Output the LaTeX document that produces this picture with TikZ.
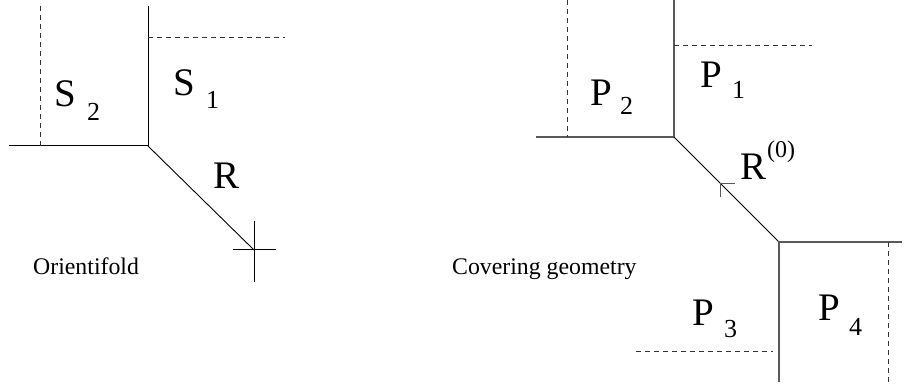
\documentclass[tikz,border=0pt]{standalone}
\usepackage{fontspec}
\setmainfont{Liberation Serif}
\begin{document}
\begin{tikzpicture}[x=1pt,y=-1pt,
  solidline/.style={line width=1pt,black},
  graysolid/.style={line width=1.1pt,black!65},
  diag/.style={line width=0.9pt,black},
  dashline/.style={line width=0.9pt,black!80,dash pattern=on 5pt off 4pt},
  big/.style={inner sep=0pt,anchor=base west,font=\fontsize{39}{39}\selectfont},
  sub/.style={inner sep=0pt,anchor=base west,font=\fontsize{26}{26}\selectfont},
  captext/.style={inner sep=0pt,anchor=base west,font=\fontsize{23.8}{23.8}\selectfont}]
\useasboundingbox (0,0) rectangle (910,387);
% ---------- left: orientifold ----------
\coordinate (LT) at (148,6);
\coordinate (LC) at (148,146);
\coordinate (LW) at (9,146);
\coordinate (LDT) at (40,6);
\coordinate (LDB) at (40,146);
\coordinate (LHE) at (285,37);
\coordinate (LH0) at (148,37);
\coordinate (LE) at (254,250);
\coordinate (XL) at (233,250);
\coordinate (XR) at (276,250);
\coordinate (XT) at (254,221);
\coordinate (XB) at (254,282);
\draw[solidline] (LT) -- (LC) -- (LW);
\draw[dashline] (LDT) -- (LDB);
\draw[dashline] (LH0) -- (LHE);
\draw[diag] (LC) -- (LE);
\draw[solidline] (XL) -- (XR);
\draw[solidline] (XT) -- (XB);
\node[big] (s2) at (54,107) {S};
\node[sub] (s2i) at (87,121) {2};
\node[big] (s1) at (173,96) {S};
\node[sub] (s1i) at (206,109) {1};
\node[big] (r) at (213,189) {R};
\node[captext] (ori) at (33,275) {Orientifold};
% ---------- right: covering geometry ----------
\coordinate (RT) at (674,0);
\coordinate (RC) at (674,137);
\coordinate (RW) at (536,137);
\coordinate (RDT) at (567,0);
\coordinate (RDB) at (567,137);
\coordinate (RH0) at (674,45);
\coordinate (RHE) at (812,45);
\coordinate (RC2) at (779,242);
\coordinate (RE) at (902,242);
\coordinate (RB) at (779,382);
\coordinate (RD4T) at (888,242);
\coordinate (RD4B) at (888,382);
\coordinate (RD3L) at (636,351);
\coordinate (RD3R) at (773,351);
\coordinate (TK) at (720,183);
\coordinate (TKR) at (735,183);
\coordinate (TKB) at (720,197);
\draw[graysolid] (RT) -- (RC) -- (RW);
\draw[dashline] (RDT) -- (RDB);
\draw[dashline] (RH0) -- (RHE);
\draw[diag] (RC) -- (RC2);
\draw[graysolid] (RE) -- (RC2) -- (RB);
\draw[dashline] (RD4T) -- (RD4B);
\draw[dashline] (RD3L) -- (RD3R);
\draw[graysolid,line width=0.9pt] (TKR) -- (TK) -- (TKB);
\node[big] (p2) at (590,106) {P};
\node[sub] (p2i) at (620,115) {2};
\node[big] (p1) at (700,88) {P};
\node[sub] (p1i) at (732,99) {1};
\node[big] (r0) at (740,180) {R};
\node[inner sep=0pt,anchor=base west,font=\fontsize{24}{24}\selectfont] (r0s) at (767,158) {(0)};
\node[big] (p3) at (692,325) {P};
\node[sub] (p3i) at (724,337) {3};
\node[big] (p4) at (818,320) {P};
\node[sub] (p4i) at (849,335) {4};
\node[captext] (cov) at (452,275) {Covering geometry};
\end{tikzpicture}
\end{document}
